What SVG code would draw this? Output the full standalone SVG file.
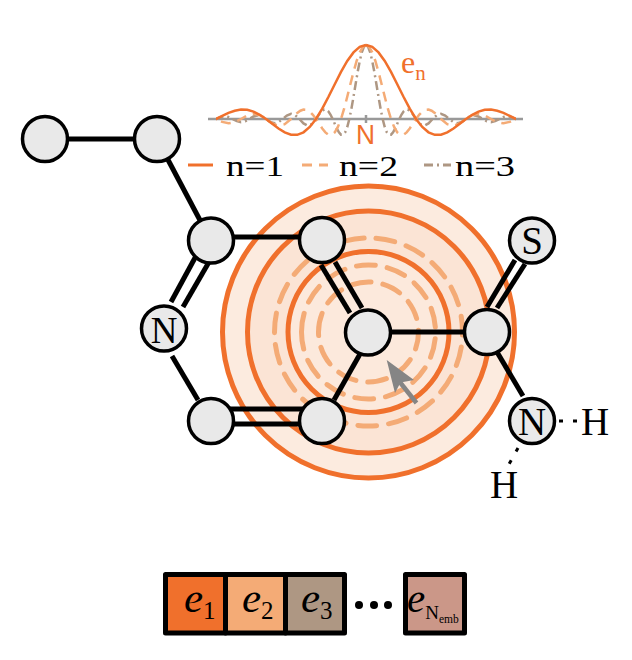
<svg xmlns="http://www.w3.org/2000/svg" width="632" height="660" viewBox="0 0 632 660">
<style>
.bond{stroke:#000;stroke-width:5;fill:none}
.node{fill:#e9e9e9;stroke:#000;stroke-width:3.5}
.ring{stroke:#f0702c;stroke-width:5}
.dring{stroke:#f4ab76;stroke-width:5;fill:none;stroke-dasharray:19 12;stroke-linecap:round}
.t{font-family:"Liberation Serif",serif;fill:#000}
.i{font-family:"Liberation Serif",serif;font-style:italic;fill:#000}
.c{fill:none;vector-effect:non-scaling-stroke}
.n1{stroke:#f0702c;stroke-width:2.5}
.n2{stroke:#f4ab76;stroke-width:2.5;stroke-dasharray:10 7}
.n3{stroke:#ae9783;stroke-width:2.5;stroke-dasharray:9 4 2 4}
.box{stroke:#000;stroke-width:5;stroke-linejoin:round}
</style>
<defs>
<path id="sinc" class="c" d="M0-74L6.25-72.1 12.5-66.6 18.75-58 25-47.1 31.25-34.8 37.5-22.2 43.75-10.3 50 0 56.25 8 62.5 13.3 68.75 15.8 75 15.7 81.25 13.4 87.5 9.5 93.75 4.8 100 0 106.25-4.2 112.5-7.4 118.75-9.2 125-9.4 131.25-8.3 137.5-6.1 143.75-3.1 150 0 162.5 5.1 175 6.7 187.5 4.4 200 0 212.5-3.9 225-5.2 237.5-3.5 250 0 262.5 3.2 275 4.3 287.5 2.9 300 0 312.5-2.7 325-3.6 337.5-2.5 350 0 362.5 2.3 375 3.1 387.5 2.1 400 0 412.5-2 425-2.8 437.5-1.9 450 0"/>
<clipPath id="plotclip"><rect x="216" y="30" width="300" height="120"/></clipPath>
</defs>
<g id="rings">
<circle class="ring" cx="368.500" cy="332" r="146" fill="#fcebdf"/>
<circle class="ring" cx="368.500" cy="332" r="121" fill="#fbe4d5"/>
<circle class="ring" cx="368.500" cy="332" r="80.500" fill="#fce9dc"/>
<circle class="dring" cx="368.500" cy="332" r="94" transform="rotate(180 368.500 332)"/>
<circle class="dring" cx="368.500" cy="332" r="67" transform="rotate(180 368.500 332)"/>
<circle class="dring" cx="368.500" cy="332" r="50" transform="rotate(180 368.500 332)"/>
</g>
<g id="plot">
<line x1="208" y1="119" x2="523" y2="119" stroke="#999" stroke-width="2.500"/>
<line x1="366" y1="115" x2="366" y2="123" stroke="#999" stroke-width="2.500"/>
<g clip-path="url(#plotclip)">
<use href="#sinc" class="n3" transform="translate(366 119) scale(.3333 1)"/>
<use href="#sinc" class="n3" transform="translate(366 119) scale(-.3333 1)"/>
<use href="#sinc" class="n2" transform="translate(366 119) scale(.5 1)"/>
<use href="#sinc" class="n2" transform="translate(366 119) scale(-.5 1)"/>
<use href="#sinc" class="n1" transform="translate(366 119)"/>
<use href="#sinc" class="n1" transform="translate(366 119) scale(-1 1)"/>
</g>
<text x="356" y="143.500" font-family="Liberation Sans,sans-serif" font-size="28" fill="#f0702c" textLength="19" lengthAdjust="spacingAndGlyphs">N</text>
<text x="401" y="73" class="t" font-size="32" style="fill:#f0702c">e<tspan font-size="21" dy="7">n</tspan></text>
</g>
<g id="legend">
<line x1="188" y1="165" x2="213" y2="165" class="n1" style="stroke-width:3"/>
<text x="226" y="175.500" class="t" font-size="29" textLength="58" lengthAdjust="spacingAndGlyphs">n=1</text>
<line x1="302" y1="165" x2="328" y2="165" class="n2" style="stroke-width:3"/>
<text x="339" y="175.500" class="t" font-size="29" textLength="59" lengthAdjust="spacingAndGlyphs">n=2</text>
<line x1="424" y1="165" x2="451" y2="165" class="n3" style="stroke-width:3"/>
<text x="455" y="175.500" class="t" font-size="29" textLength="60" lengthAdjust="spacingAndGlyphs">n=3</text>
</g>
<g id="connectors">
<line class="bond" x1="45" y1="139" x2="157" y2="139"/>
<line class="bond" x1="157" y1="139" x2="211" y2="241"/>
<line class="bond" x1="211" y1="237" x2="322" y2="237"/>
<line class="bond" x1="196" y1="256" x2="171" y2="302"/>
<line class="bond" x1="209" y1="262" x2="183" y2="307"/>
<line class="bond" x1="172" y1="356" x2="198" y2="400"/>
<line class="bond" x1="211" y1="409" x2="322" y2="409"/>
<line class="bond" x1="211" y1="424" x2="322" y2="424"/>
<line class="bond" x1="321" y1="265" x2="350" y2="313"/>
<line class="bond" x1="335" y1="262" x2="362" y2="308"/>
<line class="bond" x1="360" y1="354" x2="334" y2="400"/>
<line class="bond" x1="368" y1="332" x2="487" y2="332"/>
<line class="bond" x1="515" y1="260" x2="487" y2="307"/>
<line class="bond" x1="525" y1="264" x2="497" y2="308"/>
<line class="bond" x1="497" y1="352" x2="523" y2="396"/>
<line x1="559" y1="421" x2="580" y2="421" stroke="#000" stroke-width="3" stroke-dasharray="4 10"/>
<line x1="518" y1="448" x2="508" y2="466" stroke="#000" stroke-width="3" stroke-dasharray="4 10"/>
</g>
<g id="n1"><circle class="node" cx="45" cy="139" r="22.500"/></g>
<g id="n2"><circle class="node" cx="157" cy="139" r="22.500"/></g>
<g id="n3"><circle class="node" cx="211" cy="240.500" r="22.500"/></g>
<g id="n4"><circle class="node" cx="322" cy="240" r="22.500"/></g>
<g id="n5"><circle class="node" cx="164" cy="328.500" r="22.500"/><text x="164" y="342.500" text-anchor="middle" class="t" font-size="37">N</text></g>
<g id="n6"><circle class="node" cx="211" cy="421" r="22.500"/></g>
<g id="n7"><circle class="node" cx="322" cy="421" r="22.500"/></g>
<g id="n8"><circle class="node" cx="368" cy="332.500" r="22.500"/></g>
<g id="n9"><circle class="node" cx="487" cy="332" r="22.500"/></g>
<g id="n10"><circle class="node" cx="532" cy="240.500" r="22.500"/><text x="532" y="254" text-anchor="middle" class="t" font-size="39">S</text></g>
<g id="n11"><circle class="node" cx="532" cy="421" r="22.500"/><text x="532" y="435" text-anchor="middle" class="t" font-size="39">N</text></g>
<g id="h1"><text x="595" y="435" text-anchor="middle" class="t" font-size="39">H</text></g>
<g id="h2"><text x="504" y="498" text-anchor="middle" class="t" font-size="39">H</text></g>
<g id="arrow">
<path d="M386.700 360L414 380 400.500 382.500 395 393Z" fill="#858585"/>
<line x1="399" y1="381" x2="416.500" y2="403" stroke="#858585" stroke-width="4.500"/>
</g>
<g id="embedding">
<rect class="box" x="165.500" y="574.500" width="60" height="58.500" fill="#f0702c"/>
<rect class="box" x="225.500" y="574.500" width="60" height="58.500" fill="#f4ab76"/>
<rect class="box" x="285.500" y="574.500" width="59" height="58.500" fill="#ae9783"/>
<rect class="box" x="405.500" y="574.500" width="59" height="58.500" fill="#cb9788"/>
<circle cx="359" cy="605" r="4"/><circle cx="374" cy="605" r="4"/><circle cx="388" cy="605" r="4"/>
<text x="184" y="612" class="i" font-size="43">e<tspan font-size="25" font-style="normal" dy="7">1</tspan></text>
<text x="242" y="612" class="i" font-size="43">e<tspan font-size="25" font-style="normal" dy="7">2</tspan></text>
<text x="301" y="612" class="i" font-size="43">e<tspan font-size="25" font-style="normal" dy="7">3</tspan></text>
<text x="407" y="612" class="i" font-size="41">e<tspan font-size="19" font-style="normal" dy="7">N</tspan><tspan font-size="11.500" font-style="normal" dy="4">emb</tspan></text>
</g>
</svg>
